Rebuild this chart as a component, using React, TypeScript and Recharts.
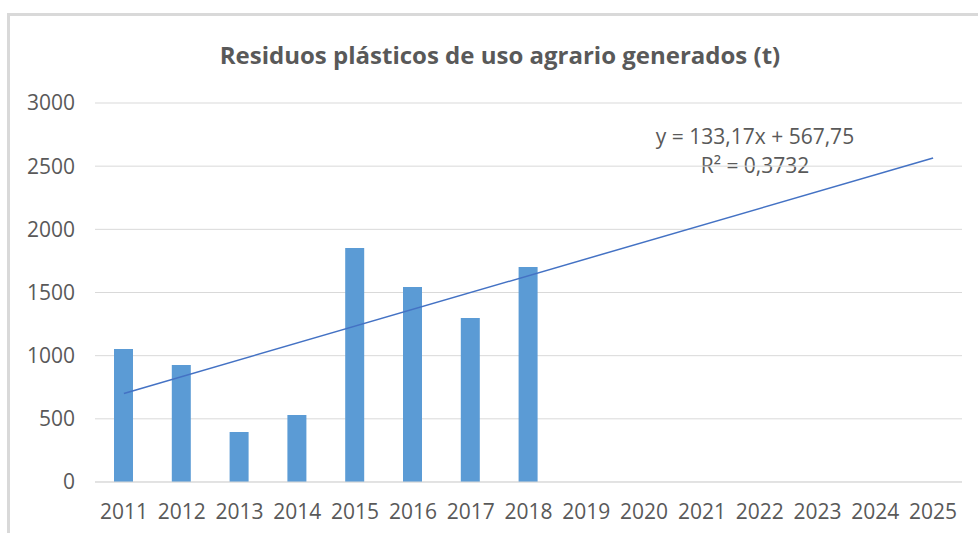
import {
  ComposedChart,
  Bar,
  Line,
  XAxis,
  YAxis,
  CartesianGrid,
} from "recharts"

const years = [
  "2011", "2012", "2013", "2014", "2015", "2016", "2017", "2018",
  "2019", "2020", "2021", "2022", "2023", "2024", "2025",
]
const residuos = [1053, 926, 396, 530, 1853, 1544, 1298, 1702]
// trend line only has its two ends, the rest is joined up
const trendValues = [701, null, null, null, null, null, null, null, null, null, null, null, null, null, 2565]
const yTicks = [0, 500, 1000, 1500, 2000, 2500, 3000]

const title = "Residuos plásticos de uso agrario generados (t)"
const equation = "y = 133,17x + 567,75"
const rSquared = "R² = 0,3732"

const textColor = "#595959"
const gridColor = "#d9d9d9"
const font = "'Open Sans', sans-serif"

const data = years.map((year, i) => ({
  year,
  residuos: i < residuos.length ? residuos[i] : null,
  trend: trendValues[i],
}))

export default function App() {
  return (
    <div
      style={{
        position: "absolute",
        left: 0,
        top: 0,
        width: 978,
        height: 533,
        overflow: "hidden",
        background: "#fff",
        fontFamily: font,
      }}
    >
      <div
        style={{
          position: "absolute",
          left: 7,
          top: 13,
          width: 1000,
          height: 560,
          border: `3px solid ${gridColor}`,
          boxSizing: "border-box",
        }}
      />
      <div
        style={{
          position: "absolute",
          left: 0,
          width: 1000,
          top: 38,
          textAlign: "center",
          fontSize: 24,
          fontWeight: 700,
          color: textColor,
          lineHeight: "34px",
        }}
      >
        {title}
      </div>
      <div
        style={{
          position: "absolute",
          left: 635,
          width: 240,
          top: 122,
          textAlign: "center",
          fontSize: 21,
          color: textColor,
          lineHeight: "29px",
        }}
      >
        <div>{equation}</div>
        <div>{rSquared}</div>
      </div>
      <div style={{ position: "absolute", left: 0, top: 0 }}>
        <ComposedChart
          width={978}
          height={533}
          data={data}
          margin={{ top: 103, right: 16, bottom: 0, left: 0 }}
        >
          <CartesianGrid vertical={false} stroke={gridColor} />
          <XAxis
            dataKey="year"
            height={51}
            tickLine={false}
            axisLine={{ stroke: gridColor }}
            tickSize={0}
            tickMargin={22}
            interval={0}
            tick={{ fontSize: 21, fill: textColor, fontFamily: font }}
          />
          <YAxis
            width={95}
            domain={[0, 3000]}
            ticks={yTicks}
            tickLine={false}
            axisLine={false}
            tickSize={0}
            tickMargin={20}
            tick={{ fontSize: 21, fill: textColor, fontFamily: font }}
          />
          <Bar
            dataKey="residuos"
            fill="#5b9bd5"
            barSize={19}
            isAnimationActive={false}
          />
          <Line
            dataKey="trend"
            stroke="#4472c4"
            strokeWidth={1.5}
            dot={false}
            connectNulls
            isAnimationActive={false}
          />
        </ComposedChart>
      </div>
    </div>
  )
}
